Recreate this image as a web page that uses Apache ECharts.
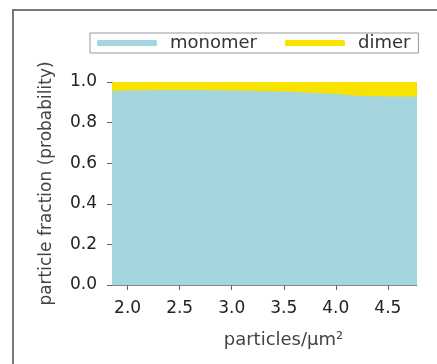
<!DOCTYPE html>
<html>
<head>
<meta charset="UTF-8">
<title>particle fraction</title>
<script src="https://cdn.jsdelivr.net/npm/echarts@6.0.0/dist/echarts.min.js"></script>
<style>
  body { margin: 0; background: #fff; }
  #chart { width: 437px; height: 364px; }
</style>
</head>
<body>
<div id="chart"></div>
<script>
// particle density (particles/um^2)
const density = [1.85, 2.0, 2.25, 2.5, 2.75, 3.0, 3.25, 3.5, 3.8, 4.0, 4.2, 4.5, 4.78];
// monomer fraction (lower band)
const monomer = [0.955, 0.958, 0.96, 0.96, 0.96, 0.958, 0.956, 0.953, 0.946, 0.942, 0.932, 0.929, 0.928];
// monomer + dimer (top of the yellow band)
const total   = [1.0, 1.0, 1.0, 1.0, 1.0, 1.0, 1.0, 1.0, 1.0, 1.0, 1.0, 1.0, 1.0];
const xTicks = [2.0, 2.5, 3.0, 3.5, 4.0, 4.5];

const blue = '#a5d5dc';
const yellow = '#f8e200';
const font = '"DejaVu Sans", sans-serif';

const chart = echarts.init(document.getElementById('chart'));

chart.setOption({
    animation: false,
    textStyle: { fontFamily: font },
    graphic: [{
        // outer frame
        type: 'rect',
        shape: { x: 13, y: 10, width: 440, height: 370 },
        style: { fill: null, stroke: '#777', lineWidth: 2 },
        silent: true
    }],
    legend: {
        left: 90,
        top: 33,
        padding: [1, 8, 1, 7],
        borderColor: '#999',
        borderWidth: 1,
        itemWidth: 60,
        itemHeight: 6,
        itemGap: 28,
        icon: 'roundRect',
        textStyle: { fontSize: 18, color: '#333', padding: [0, 0, 0, 8] },
        data: [
            { name: 'monomer', itemStyle: { color: blue } },
            { name: 'dimer', itemStyle: { color: yellow } }
        ]
    },
    grid: { left: 112, right: 20, top: 82, bottom: 79 },
    xAxis: {
        type: 'value',
        min: 1.85,
        max: 4.78,
        name: 'particles/\u00b5m\u00b2',
        nameLocation: 'middle',
        nameGap: 46,
        nameTextStyle: { fontSize: 18, color: '#444', padding: [0, 0, 0, 38] },
        axisLine: { show: true, lineStyle: { color: '#888', width: 1 } },
        axisTick: { show: true, length: 5, customValues: xTicks, lineStyle: { color: '#666' } },
        axisLabel: {
            customValues: xTicks,
            margin: 15,
            fontSize: 17,
            color: '#222',
            formatter: v => v.toFixed(1)
        },
        splitLine: { show: false }
    },
    yAxis: {
        type: 'value',
        min: 0,
        max: 1,
        interval: 0.2,
        name: 'particle fraction (probability)',
        nameLocation: 'middle',
        nameGap: 57,
        nameTextStyle: { fontSize: 17, color: '#444' },
        axisLine: { show: true, lineStyle: { color: '#888', width: 1 } },
        axisTick: { show: true, length: 5, lineStyle: { color: '#666' } },
        axisLabel: {
            margin: 15,
            fontSize: 17,
            color: '#222',
            formatter: v => v.toFixed(1)
        },
        splitLine: { show: false }
    },
    series: [
        {
            name: 'dimer',
            type: 'line',
            symbol: 'none',
            z: 1,
            lineStyle: { width: 0 },
            itemStyle: { color: yellow },
            areaStyle: { color: yellow, opacity: 1 },
            data: density.map((x, i) => [x, total[i]])
        },
        {
            name: 'monomer',
            type: 'line',
            symbol: 'none',
            z: 2,
            lineStyle: { width: 0 },
            itemStyle: { color: blue },
            areaStyle: { color: blue, opacity: 1 },
            data: density.map((x, i) => [x, monomer[i]])
        }
    ]
});
</script>
</body>
</html>
